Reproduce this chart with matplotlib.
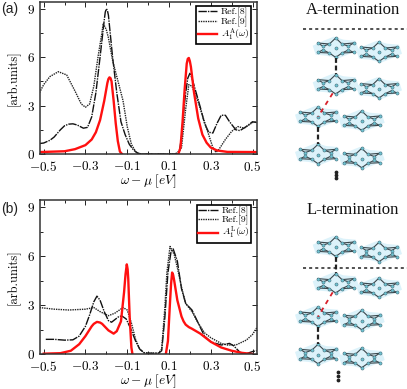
import matplotlib
matplotlib.use("Agg")
import matplotlib.pyplot as plt
import numpy as np
from matplotlib.patches import Polygon

plt.rcParams["mathtext.fontset"] = "cm"
plt.rcParams["axes.unicode_minus"] = False

W, H = 407, 389
nan = np.nan

# panel (a)
a_ref8_x = [-0.52, -0.5, -0.47, -0.45, -0.42, -0.4, -0.38, -0.36, -0.34, -0.31, -0.29, -0.27, -0.25, -0.23, -0.21, -0.205, -0.2, -0.195, -0.19, -0.17, -0.15, -0.13, -0.11, -0.09, -0.07, -0.05, -0.03, 0.13, 0.15, 0.16, 0.17, 0.18, 0.19, 0.2, 0.21, 0.23, 0.25, 0.27, 0.29, 0.31, 0.33, 0.35, 0.37, 0.39, 0.42, 0.44, 0.47, 0.5, 0.52]
a_ref8_y = [0.65, 0.68, 0.85, 1.05, 1.5, 1.75, 1.85, 1.87, 1.8, 1.6, 1.65, 2.3, 3.8, 6.0, 8.3, 8.8, 9.0, 8.9, 8.6, 6.0, 3.8, 2.0, 1.2, 0.6, 0.25, 0.05, 0, 0, 0.2, 1.0, 2.6, 3.8, 4.7, 5.0, 4.7, 3.8, 2.9, 1.9, 1.35, 1.3, 1.9, 2.4, 2.4, 2.0, 1.5, 1.45, 1.7, 2.0, 1.95]
a_ref9_x = [-0.52, -0.5, -0.47, -0.43, -0.39, -0.35, -0.32, -0.3, -0.28, -0.26, -0.24, -0.22, -0.215, -0.2, -0.19, -0.17, -0.15, -0.12, -0.1, -0.08, -0.06, -0.04, 0.14, 0.16, 0.18, 0.195, 0.21, 0.23, 0.26, 0.29, 0.31, 0.325, 0.34, 0.37, 0.4, 0.43, 0.46, 0.5, 0.52]
a_ref9_y = [3.8, 4.3, 4.8, 5.1, 4.9, 3.9, 3.1, 2.9, 3.1, 4.2, 6.0, 7.6, 8.1, 7.7, 7.2, 5.8, 4.8, 3.3, 1.7, 0.6, 0.15, 0, 0, 0.4, 2.8, 4.3, 4.2, 3.6, 2.4, 1.2, 0.4, 0.1, 0.3, 0.9, 1.4, 1.7, 1.6, 1.95, 2.0]
a_model_x = [-0.52, -0.4, -0.35, -0.3, -0.27, -0.25, -0.23, -0.21, -0.195, -0.19, -0.185, -0.18, -0.175, -0.165, -0.155, -0.145, -0.135, -0.125, nan, 0.145, 0.155, 0.165, 0.175, 0.185, 0.19, 0.195, 0.2, 0.205, 0.22, 0.24, 0.26, 0.28, 0.3, 0.33, 0.38, 0.52]
a_model_y = [0.12, 0.17, 0.3, 0.55, 0.9, 1.35, 2.1, 3.3, 4.4, 4.65, 4.75, 4.7, 4.5, 3.3, 1.9, 0.8, 0.15, 0, nan, 0, 0.4, 2.0, 4.0, 5.6, 5.9, 5.95, 5.75, 5.4, 3.8, 2.2, 1.2, 0.7, 0.4, 0.22, 0.13, 0.12]

# panel (b)
b_ref8_x = [-0.49, -0.45, -0.4, -0.36, -0.33, -0.3, -0.28, -0.26, -0.245, -0.23, -0.21, -0.19, -0.175, -0.16, -0.14, -0.125, -0.105, -0.085, -0.06, -0.04, -0.02, 0, 0.05, 0.065, 0.08, 0.095, 0.11, 0.12, 0.14, 0.16, 0.18, 0.21, 0.24, 0.27, 0.3, 0.35, 0.39, 0.41, 0.44, 0.47, 0.5, 0.52]
b_ref8_y = [0.9, 0.9, 0.85, 0.87, 1.1, 1.7, 2.4, 3.2, 3.55, 3.3, 2.6, 2.05, 1.95, 2.1, 2.3, 2.33, 2.15, 1.6, 0.8, 0.3, 0.08, 0.05, 0.05, 0.2, 2.2, 5.0, 6.3, 6.45, 5.7, 4.0, 3.1, 2.7, 1.9, 1.1, 0.75, 0.55, 0.65, 0.5, 0.1, 0.02, 0.15, 0.2]
b_ref9_x = [-0.52, -0.45, -0.38, -0.3, -0.26, -0.23, -0.19, -0.16, -0.12, -0.1, -0.08, -0.06, -0.04, -0.02, 0, 0.05, 0.065, 0.08, 0.09, 0.105, 0.125, 0.14, 0.16, 0.18, 0.21, 0.24, 0.27, 0.3, 0.35, 0.38, 0.42, 0.47, 0.5, 0.52]
b_ref9_y = [2.85, 2.75, 2.7, 2.75, 2.85, 2.6, 2.35, 2.5, 2.85, 2.7, 1.9, 0.9, 0.3, 0.08, 0.05, 0.05, 0.3, 2.8, 5.0, 6.6, 6.1, 5.3, 4.1, 3.1, 2.6, 1.9, 1.3, 1.0, 0.65, 0.55, 0.55, 0.85, 1.2, 1.6]
b_model_x = [-0.5, -0.42, -0.37, -0.33, -0.3, -0.27, -0.26, -0.245, -0.23, -0.22, -0.19, -0.165, -0.15, -0.13, -0.115, -0.108, -0.102, -0.098, -0.095, -0.088, -0.08, -0.075, nan, 0.085, 0.095, 0.105, 0.11, 0.115, 0.12, 0.125, 0.14, 0.16, 0.17, 0.18, 0.195, 0.21, 0.25, 0.3, 0.35, 0.4, 0.45, 0.5]
b_model_y = [0.02, 0.05, 0.2, 0.6, 1.1, 1.7, 1.85, 1.97, 1.93, 1.85, 1.45, 1.25, 1.4, 2.0, 3.8, 4.9, 5.5, 5.2, 4.6, 2.2, 0.4, 0, nan, 0, 0.8, 3.2, 4.3, 5.0, 4.85, 4.5, 3.3, 2.3, 2.0, 1.8, 1.65, 1.55, 1.25, 0.75, 0.4, 0.2, 0.07, 0]

x_ticks = [-0.5, -0.3, -0.1, 0.1, 0.3, 0.5]
x_labels = ["$-0.5$", "$-0.3$", "$-0.1$", "$0.1$", "$0.3$", "$0.5$"]
y_ticks = [0, 3, 6, 9]
y_labels = ["$0$", "$3$", "$6$", "$9$"]

# schematic: molecule template, offsets in pixels from the centre
atoms = [(-18, -4.7), (-18, 4.7), (-12.7, -1.5), (-12.7, 2.3), (-6.3, -3.7), (0, -9.7), (6.3, -3.7),
         (-6.3, 5.3), (0, 9.7), (6.3, 5.3), (0, 0.5), (12.7, -1.5), (12.7, 2.3), (18, -4.7), (18, 4.7)]
bonds = [(0, 4), (4, 5), (5, 6), (6, 13), (1, 7), (7, 8), (8, 9), (9, 14), (0, 2), (1, 3),
         (2, 4), (3, 7), (11, 6), (12, 9), (13, 11), (14, 12)]
shadow = [(-23, -2), (-12, -7), (-2, -11), (8, -8), (20, -7), (23, 2), (12, 7), (2, 11), (-9, 8), (-20, 7)]

a_molecules = [(335.7, 47.7), (379, 51.7), (335.7, 84.3), (379, 88.3), (318, 116.7), (361.7, 120.7), (318, 154), (361.7, 158)]
b_molecules = [(335.7, 246.7), (379, 252), (335.7, 283.3), (379, 287.7), (318, 316.7), (361.7, 320), (318, 354), (361.7, 358)]


def add_axes_px(fig, left, right, top, bottom):
    return fig.add_axes([left / W, 1 - bottom / H, (right - left) / W, (bottom - top) / H])


def plot_panel(ax, ref8, ref9, model, model_label, ymax):
    ax.plot(ref8[0], ref8[1], color="#111111", lw=1.0, ls=(0, (6, 0.8, 1, 0.8)), label="Ref.[8]")
    ax.plot(ref9[0], ref9[1], color="#222222", lw=1.0, ls=(0, (1, 0.7)), label="Ref.[9]")
    ax.plot(model[0], model[1], color="#ff1010", lw=1.7, label=model_label, solid_joinstyle="round")
    ax.set_xlim(-0.52, 0.52)
    ax.set_ylim(0, ymax)
    ax.set_xticks(x_ticks)
    ax.set_xticklabels(x_labels, fontsize=9.5)
    ax.set_xticks([-0.4, -0.2, 0, 0.2, 0.4], minor=True)
    ax.set_yticks(y_ticks)
    ax.set_yticklabels(y_labels, fontsize=9.5)
    ax.set_yticks([1.5, 4.5, 7.5], minor=True)
    ax.tick_params(which="both", direction="in", top=True, right=True, color="#222222", width=0.7, pad=3)
    ax.tick_params(axis="x", which="major", pad=4)
    ax.tick_params(which="major", length=3.5)
    ax.tick_params(which="minor", length=2)
    for s in ax.spines.values():
        s.set_linewidth(1.1)
        s.set_color("#333333")
    ax.set_xlabel(r"$\omega-\mu\ [eV]$", fontsize=9.5, labelpad=-0.5)
    ax.set_ylabel("[arb.units]", fontsize=9, family="cmr10", labelpad=5)
    leg = ax.legend(loc="upper right", prop={"family": "cmr10", "size": 7}, fancybox=False,
                    edgecolor="black", framealpha=1, handlelength=2.0, labelspacing=0, borderpad=0.15,
                    handletextpad=0.4, borderaxespad=0.35, bbox_to_anchor=(0.99, 0.99))
    leg.get_frame().set_linewidth(1.2)


def draw_molecule(ax, cx, cy):
    ax.add_patch(Polygon([(cx + p[0], cy + p[1]) for p in shadow], closed=True, fc="#dcf2fa", ec="none", zorder=1))
    for i, j in bonds:
        ax.plot([cx + atoms[i][0], cx + atoms[j][0]], [cy + atoms[i][1], cy + atoms[j][1]], color="#3a474c", lw=0.8, zorder=2)
    ax.scatter([cx + p[0] for p in atoms], [cy + p[1] for p in atoms], s=5, c="#6fc3d2", edgecolors="#3f6470", linewidths=0.35, zorder=3)


def draw_schematic(ax, title, title_y, molecules, line_y, dots_x, dots_y):
    ax.text(352.5, title_y, title, ha="center", va="center", fontsize=12, family="Liberation Serif", color="#111111")
    ax.plot([303, 407], [line_y, line_y], color="#222222", lw=1.1, ls=(0, (2, 2)), zorder=4)
    for cx, cy in molecules:
        draw_molecule(ax, cx, cy)
    m1, m2, m3, m4 = molecules[0], molecules[2], molecules[4], molecules[6]
    ax.plot([m1[0], m2[0]], [m1[1] + 10, m2[1] - 10], color="#222222", lw=1.6, ls=(0, (2.2, 1.2)), zorder=4)
    ax.plot([m3[0], m4[0]], [m3[1] + 10, m4[1] - 10], color="#222222", lw=1.6, ls=(0, (2.2, 1.2)), zorder=4)
    ax.plot([m2[0] - 3, m3[0]], [m2[1] + 9, m3[1]], color="#d8202a", lw=1.3, ls=(0, (2.5, 2.5)), zorder=4)
    ax.scatter([dots_x] * 3, dots_y, s=3, c="#222222", zorder=4)


fig = plt.figure(figsize=(W / 100, H / 100), dpi=100)

ax_a = add_axes_px(fig, 39.5, 256.7, 1.5, 154)
plot_panel(ax_a, (a_ref8_x, a_ref8_y), (a_ref9_x, a_ref9_y), (a_model_x, a_model_y), r"$A_1^{\mathrm{A}}(\omega)$", 9.45)
ax_b = add_axes_px(fig, 39.5, 256.7, 200, 354)
plot_panel(ax_b, (b_ref8_x, b_ref8_y), (b_ref9_x, b_ref9_y), (b_model_x, b_model_y), r"$A_1^{\mathrm{L}}(\omega)$", 9.45)

fig.text(1 / W, 1 - 9.5 / H, "(a)", fontsize=10, family="Liberation Sans", va="center", color="#222222")
fig.text(1 / W, 1 - 209 / H, "(b)", fontsize=10, family="Liberation Sans", va="center", color="#222222")

# overlay in pixel coordinates for the right hand drawings
over = fig.add_axes([0, 0, 1, 1])
over.set_xlim(0, W)
over.set_ylim(H, 0)
over.axis("off")
over.patch.set_alpha(0)
draw_schematic(over, "A-termination", 9.5, a_molecules, 29.3, 336, [172, 175, 178])
draw_schematic(over, "L-termination", 210, b_molecules, 267.7, 338, [372, 376, 380])

fig.savefig("out.png", dpi=100)
plt.close()
